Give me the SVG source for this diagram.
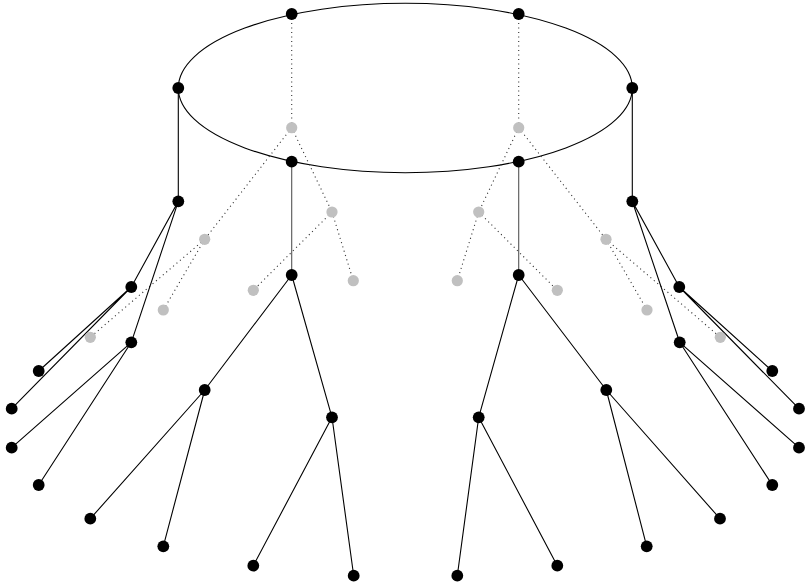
<svg xmlns="http://www.w3.org/2000/svg" width="805" height="586" viewBox="0 0 805 586">
<style>
.e{stroke:#000;stroke-width:1.1;fill:none}
.v{stroke:#555;stroke-width:1.1;fill:none}
.d{stroke:#333;stroke-width:1.1;stroke-dasharray:1.1 3.4;fill:none}
.n{fill:#000}
.g{fill:#c0c0c0}
</style>
<rect width="805" height="586" fill="#fff"/>
<g id="connectors">
<ellipse class="e" cx="405.3" cy="88" rx="227" ry="84.7"/>
<path class="d" d="M291.7,14 L291.7,127.7 M291.7,127.7 L204.7,239.3 M291.7,127.7 L332,212 M204.7,239.3 L90.3,337.3 M204.7,239.3 L163.3,310 M332,212 L253.3,290.3 M332,212 L353.3,280.7"/>
<path class="d" d="M518.7,14 L518.7,127.7 M518.7,127.7 L606,239.3 M518.7,127.7 L478.7,212 M606,239.3 L720.3,337.3 M606,239.3 L647,310 M478.7,212 L557.3,290.3 M478.7,212 L457.3,280.7"/>
<path class="e" d="M178.3,88 L178.3,201.3 L131.3,287 M178.3,201.3 L131.3,342.3 M131.3,287 L38.7,371 M131.3,287 L11.7,408.7 M131.3,342.3 L11.7,447.7 M131.3,342.3 L38.7,485"/>
<path class="e" d="M632.3,88 L632.3,201.3 L679.3,287 M632.3,201.3 L679.7,342.3 M679.3,287 L772.3,371 M679.3,287 L799,408.7 M679.7,342.3 L799,447.7 M679.7,342.3 L772.3,485"/>
<path class="v" d="M291.7,161.7 L291.7,275"/>
<path class="e" d="M291.7,275 L204.7,390 M291.7,275 L332,417.3 M204.7,390 L90.3,518.7 M204.7,390 L163.3,546.3 M332,417.3 L253.3,565.7 M332,417.3 L353.7,575.7"/>
<path class="v" d="M518.7,161.7 L518.7,275"/>
<path class="e" d="M518.7,275 L606.3,390 M518.7,275 L478.7,417.3 M606.3,390 L720,518.7 M606.3,390 L646.7,546.3 M478.7,417.3 L557.3,565.7 M478.7,417.3 L457.3,575.7"/>
</g>
<g id="gray-nodes">
<circle id="g1" class="g" cx="291.7" cy="127.7" r="5.6"/>
<circle id="g2" class="g" cx="204.7" cy="239.3" r="5.6"/>
<circle id="g3" class="g" cx="332" cy="212" r="5.6"/>
<circle id="g4" class="g" cx="90.3" cy="337.3" r="5.6"/>
<circle id="g5" class="g" cx="163.3" cy="310" r="5.6"/>
<circle id="g6" class="g" cx="253.3" cy="290.3" r="5.6"/>
<circle id="g7" class="g" cx="353.3" cy="280.7" r="5.6"/>
<circle id="g8" class="g" cx="518.7" cy="127.7" r="5.6"/>
<circle id="g9" class="g" cx="606" cy="239.3" r="5.6"/>
<circle id="g10" class="g" cx="478.7" cy="212" r="5.6"/>
<circle id="g11" class="g" cx="720.3" cy="337.3" r="5.6"/>
<circle id="g12" class="g" cx="647" cy="310" r="5.6"/>
<circle id="g13" class="g" cx="557.3" cy="290.3" r="5.6"/>
<circle id="g14" class="g" cx="457.3" cy="280.7" r="5.6"/>
</g>
<g id="nodes">
<g id="n-top-l"><circle class="n" cx="291.7" cy="14" r="5.9"/></g>
<g id="n-top-r"><circle class="n" cx="518.7" cy="14" r="5.9"/></g>
<g id="n-left"><circle class="n" cx="178.3" cy="88" r="5.9"/></g>
<g id="n-right"><circle class="n" cx="632.3" cy="88" r="5.9"/></g>
<g id="n-bot-l"><circle class="n" cx="291.7" cy="161.7" r="5.9"/></g>
<g id="n-bot-r"><circle class="n" cx="518.7" cy="161.7" r="5.9"/></g>
<g id="n-l1"><circle class="n" cx="178.3" cy="201.3" r="5.9"/></g>
<g id="n-l2"><circle class="n" cx="131.3" cy="287" r="5.9"/></g>
<g id="n-l3"><circle class="n" cx="131.3" cy="342.3" r="5.9"/></g>
<g id="n-l4"><circle class="n" cx="38.7" cy="371" r="5.9"/></g>
<g id="n-l5"><circle class="n" cx="11.7" cy="408.7" r="5.9"/></g>
<g id="n-l6"><circle class="n" cx="11.7" cy="447.7" r="5.9"/></g>
<g id="n-l7"><circle class="n" cx="38.7" cy="485" r="5.9"/></g>
<g id="n-r1"><circle class="n" cx="632.3" cy="201.3" r="5.9"/></g>
<g id="n-r2"><circle class="n" cx="679.3" cy="287" r="5.9"/></g>
<g id="n-r3"><circle class="n" cx="679.7" cy="342.3" r="5.9"/></g>
<g id="n-r4"><circle class="n" cx="772.3" cy="371" r="5.9"/></g>
<g id="n-r5"><circle class="n" cx="799" cy="408.7" r="5.9"/></g>
<g id="n-r6"><circle class="n" cx="799" cy="447.7" r="5.9"/></g>
<g id="n-r7"><circle class="n" cx="772.3" cy="485" r="5.9"/></g>
<g id="n-cl1"><circle class="n" cx="291.7" cy="275" r="5.9"/></g>
<g id="n-cl2"><circle class="n" cx="204.7" cy="390" r="5.9"/></g>
<g id="n-cl3"><circle class="n" cx="332" cy="417.3" r="5.9"/></g>
<g id="n-cl4"><circle class="n" cx="90.3" cy="518.7" r="5.9"/></g>
<g id="n-cl5"><circle class="n" cx="163.3" cy="546.3" r="5.9"/></g>
<g id="n-cl6"><circle class="n" cx="253.3" cy="565.7" r="5.9"/></g>
<g id="n-cl7"><circle class="n" cx="353.7" cy="575.7" r="5.9"/></g>
<g id="n-cr1"><circle class="n" cx="518.7" cy="275" r="5.9"/></g>
<g id="n-cr2"><circle class="n" cx="606.3" cy="390" r="5.9"/></g>
<g id="n-cr3"><circle class="n" cx="478.7" cy="417.3" r="5.9"/></g>
<g id="n-cr4"><circle class="n" cx="720" cy="518.7" r="5.9"/></g>
<g id="n-cr5"><circle class="n" cx="646.7" cy="546.3" r="5.9"/></g>
<g id="n-cr6"><circle class="n" cx="557.3" cy="565.7" r="5.9"/></g>
<g id="n-cr7"><circle class="n" cx="457.3" cy="575.7" r="5.9"/></g>
</g>
</svg>
